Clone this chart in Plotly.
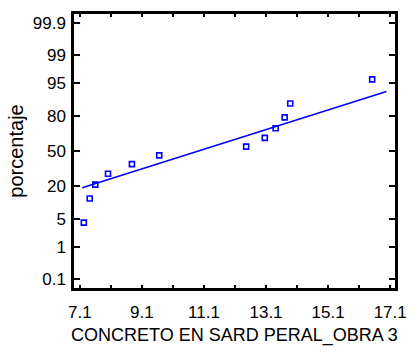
import plotly.graph_objects as go
from statistics import NormalDist

# Data
concreto = [7.23, 7.42, 7.60, 8.01, 8.78, 9.66, 12.46, 13.06, 13.41, 13.70, 13.88, 16.52]
fit_mean = 10.92
fit_sd = 4.21
fit_x = [7.18, 16.98]
pct_ticks = [0.1, 1, 5, 20, 50, 80, 95, 99, 99.9]
pct_labels = ["0.1", "1", "5", "20", "50", "80", "95", "99", "99.9"]
x_ticks = [7.1, 9.1, 11.1, 13.1, 15.1, 17.1]

x_range = [6.914, 17.255]
y_range = [-3.314, 3.314]

nd = NormalDist()
n = len(concreto)
xs = sorted(concreto)
ys = [nd.inv_cdf((i + 0.5) / n) for i in range(n)]
line_y = [(x - fit_mean) / fit_sd for x in fit_x]
tick_z = [nd.inv_cdf(p / 100.0) for p in pct_ticks]

fig = go.Figure()
fig.add_trace(go.Scatter(x=fit_x, y=line_y, mode="lines",
                         line=dict(color="#0000FF", width=1.6), showlegend=False))
fig.add_trace(go.Scatter(x=xs, y=ys, mode="markers",
                         marker=dict(symbol="square-open", size=5, color="#0000FF",
                                     line=dict(width=1.6, color="#0000FF")),
                         showlegend=False))

font = "Liberation Sans, Arial, sans-serif"
fig.update_layout(
    width=418, height=354,
    margin=dict(l=74, r=11, t=11, b=58),
    paper_bgcolor="white", plot_bgcolor="white",
    font=dict(family=font, color="black", size=17),
    xaxis=dict(range=x_range, tickvals=x_ticks, ticktext=[str(v) for v in x_ticks],
               ticks="inside", ticklen=3, tickwidth=1.5, tickcolor="#000000", ticklabelstandoff=7,
               minor=dict(dtick=1, tick0=7.1, ticks="inside", ticklen=3, tickwidth=1.5, tickcolor="#000000"),
               showline=True, linecolor="#000000", linewidth=2.5, mirror="ticks",
               showgrid=False, zeroline=False,
               title=dict(text="CONCRETO EN SARD PERAL_OBRA 3", font=dict(size=18), standoff=8)),
    yaxis=dict(range=y_range, tickvals=tick_z, ticktext=pct_labels,
               ticks="inside", ticklen=6, tickwidth=2, tickcolor="#000000", ticklabelstandoff=2,
               showline=True, linecolor="#000000", linewidth=2.5, mirror="ticks",
               showgrid=False, zeroline=False,
               title=dict(text="porcentaje", font=dict(size=20), standoff=4)),
)

js = "document.body.style.margin='0';document.body.style.padding='0';"
fig.write_html("out.html", config={"displayModeBar": False}, post_script=js)
